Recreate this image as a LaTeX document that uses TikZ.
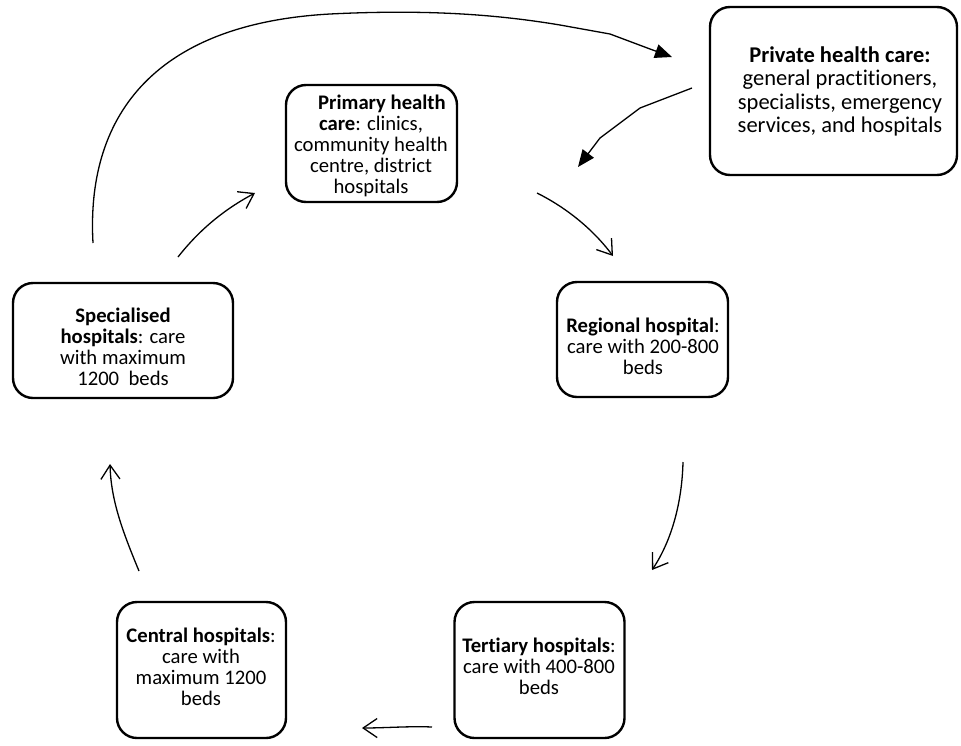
\documentclass[tikz,border=0pt]{standalone}
\usepackage{fontspec}
\setmainfont{Carlito}[Ligatures=NoCommon]
\usetikzlibrary{arrows.meta}
\begin{document}
\begin{tikzpicture}[x=1pt,y=-1pt,
  box/.style={draw, line width=2.4pt, rounded corners=20pt, inner sep=0pt},
  txt/.style={align=center, inner sep=0pt, anchor=north, font=\fontsize{20.7}{21}\selectfont},
  bigtxt/.style={txt, font=\fontsize{22.5}{23.5}\selectfont},
  flow/.style={line width=1.3pt, -{Straight Barb[length=14pt,width=19pt,line width=1.3pt]}},
  fillflow/.style={line width=1.3pt, -{Triangle[length=17pt,width=14pt]}}
]
\useasboundingbox (0,0) rectangle (961,745);

% boxes
\node[box, minimum width=171pt, minimum height=117pt] (prim) at (371.5,143.5) {};
\node[box, minimum width=247pt, minimum height=168pt] (priv) at (833.5,91) {};
\node[box, minimum width=171pt, minimum height=115pt] (reg) at (642.5,339.5) {};
\node[box, minimum width=170pt, minimum height=136pt] (tert) at (539.5,670) {};
\node[box, minimum width=169pt, minimum height=136pt] (cent) at (201.5,670) {};
\node[box, minimum width=220pt, minimum height=115pt] (spec) at (123,340.5) {};

% texts
\node[txt] (primT) at (371,93) {\rule{0pt}{16pt}\hspace*{22pt}\textbf{Primary health}\\\textbf{care}: clinics,\\community health\\centre, district\\hospitals};
\node[bigtxt] (privT) at (840,45) {\rule{0pt}{17pt}\textbf{Private health care:}\\general practitioners,\\specialists, emergency\\services, and hospitals};
\node[txt] (regT) at (643,316) {\rule{0pt}{16pt}\textbf{Regional hospital}:\\care with 200-800\\beds};
\node[txt] (tertT) at (539,636) {\rule{0pt}{16pt}\textbf{Tertiary hospitals}:\\care with 400-800\\beds};
\node[txt] (centT) at (201,626) {\rule{0pt}{16pt}\textbf{Central hospitals}:\\care with\\maximum 1200\\beds};
\node[txt] (specT) at (123,306) {\rule{0pt}{16pt}\textbf{Specialised}\\\textbf{hospitals}: care\\with maximum\\1200\ \ beds};

% connector ends
\coordinate (s1) at (178,257); \coordinate (e1) at (255,193);
\coordinate (s2) at (537,193); \coordinate (e2) at (613,256);
\coordinate (s3) at (683,462); \coordinate (e3) at (652,570);
\coordinate (s4) at (432,727); \coordinate (e4) at (362,728);
\coordinate (s5) at (139,571); \coordinate (e5) at (110,464);
\coordinate (s6) at (93,243);  \coordinate (m6) at (330,14); \coordinate (n6) at (560,25); \coordinate (e6) at (672,57);
\coordinate (s7) at (692,88);  \coordinate (e7) at (578,167);

\draw[flow] (s1) .. controls (200,229) and (225,209) .. (e1);
\draw[flow] (s2) .. controls (565,207) and (592,228) .. (e2);
\draw[flow] (s3) .. controls (682,502) and (672,540) .. (e3);
\draw[flow] (s4) .. controls (410,726) and (385,728) .. (e4);
\draw[flow] (s5) .. controls (122,530) and (111,500) .. (e5);
\draw[fillflow] (s6) .. controls (86,120) and (150,24) .. (m6) .. controls (430,9) and (500,15) .. (n6) -- (610,34) -- (650,49) -- (e6);
\draw[fillflow] (s7) -- (640,108) -- (600,138) -- (e7);
\end{tikzpicture}
\end{document}
